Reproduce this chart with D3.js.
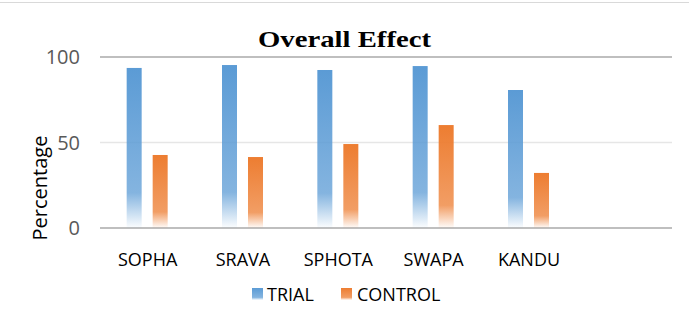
<!DOCTYPE html>
<html><head><meta charset="utf-8">
<script src="https://cdn.jsdelivr.net/npm/d3@7"></script>
<style>body{margin:0;background:#fff}svg{display:block}</style>
</head><body>
<script>
const categories = ["SOPHA","SRAVA","SPHOTA","SWAPA","KANDU",""];
const trial = [93.6, 95.3, 92.4, 94.7, 80.7];
const control = [42.7, 41.5, 49.1, 60.2, 32.2];
const seriesNames = ["TRIAL","CONTROL"];
const yTicks = [0, 50, 100];

const W = 689, H = 332;
const svg = d3.select("body").append("svg").attr("width", W).attr("height", H);
const defs = svg.append("defs");
function grad(id, c) {
  const g = defs.append("linearGradient").attr("id", id).attr("x1",0).attr("y1",0).attr("x2",0).attr("y2",1);
  g.append("stop").attr("offset","0%").attr("stop-color", c);
  g.append("stop").attr("offset","78%").attr("stop-color", c).attr("stop-opacity",0.75);
  g.append("stop").attr("offset","100%").attr("stop-color", c).attr("stop-opacity",0.02);
}
grad("gT", "#5B9BD5");
grad("gC", "#ED7D31");

svg.append("line").attr("x1",0).attr("x2",W).attr("y1",2.5).attr("y2",2.5).attr("stroke","#d9d9d9");

const x = d3.scaleBand().domain(categories).range([100, 672]).paddingInner(0).paddingOuter(0);
const y = d3.scaleLinear().domain([0,100]).range([228, 57]);

// gridlines
svg.append("g").selectAll("line").data(yTicks).join("line")
  .attr("x1",100).attr("x2",672)
  .attr("y1",d=>y(d)).attr("y2",d=>y(d))
  .attr("stroke",d=> d===50 ? "#e6e6e6" : "#bfbfbf")
  .attr("stroke-width",d=> d===50 ? 1.5 : 2);

// y labels
svg.append("g").selectAll("text").data(yTicks).join("text")
  .attr("x",80).attr("y",d=>y(d)).attr("dy","0.36em").attr("text-anchor","end")
  .attr("font-family","'Open Sans', 'DejaVu Sans', sans-serif").attr("font-size",20).attr("fill","#595959")
  .text(d=>d);

svg.append("text").attr("transform","translate(47,188) rotate(-90)").attr("text-anchor","middle")
  .attr("font-family","'Open Sans', sans-serif").attr("font-size",20).attr("fill","#000").text("Percentage");

svg.append("text").attr("x",258).attr("y",47)
  .attr("textLength",173).attr("lengthAdjust","spacingAndGlyphs")
  .attr("font-family","'Liberation Serif', serif").attr("font-weight","bold").attr("font-size",23).attr("fill","#000")
  .text("Overall Effect");

const bw = 15;
const g = svg.append("g");
g.selectAll("rect.t").data(trial).join("rect").attr("class","t")
  .attr("x",(d,i)=>x(categories[i]) + x.bandwidth()/2 - 21)
  .attr("width",bw).attr("y",d=>y(d)).attr("height",d=>y(0)-y(d)).attr("fill","url(#gT)");
g.selectAll("rect.c").data(control).join("rect").attr("class","c")
  .attr("x",(d,i)=>x(categories[i]) + x.bandwidth()/2 + 5)
  .attr("width",bw).attr("y",d=>y(d)).attr("height",d=>y(0)-y(d)).attr("fill","url(#gC)");

// category labels
svg.append("g").selectAll("text").data(categories).join("text")
  .attr("x",d=>x(d)+x.bandwidth()/2).attr("y",266).attr("text-anchor","middle")
  .attr("font-family","'Open Sans', sans-serif").attr("font-size",18).attr("fill","#000")
  .text(d=>d);

// legend
const leg = [{n:seriesNames[0], g:"url(#gT)", x:252, tx:267},{n:seriesNames[1], g:"url(#gC)", x:341, tx:357}];
const lg = svg.append("g").selectAll("g").data(leg).join("g");
lg.append("rect").attr("x",d=>d.x).attr("y",288).attr("width",11).attr("height",12).attr("fill",d=>d.g);
lg.append("text").attr("x",d=>d.tx).attr("y",301)
  .attr("font-family","'Open Sans', sans-serif").attr("font-size",18).attr("fill","#000")
  .text(d=>d.n);
</script>
</body></html>
